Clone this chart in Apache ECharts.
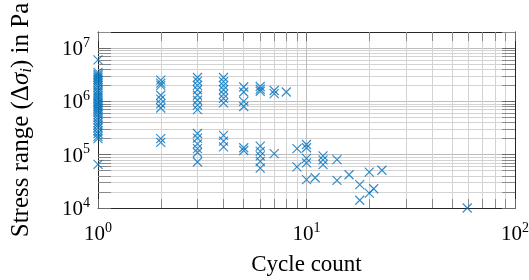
<!DOCTYPE html>
<html><head><meta charset="utf-8">
<script src="https://cdn.jsdelivr.net/npm/echarts@6/dist/echarts.min.js"></script>
<style>html,body{margin:0;padding:0;background:#fff}#c{width:529px;height:280px}</style>
</head><body><div id="c"></div>
<script>
// ---- data ----
const cycleCounts = [1, 2, 3, 4, 5, 6, 7, 8, 9, 10, 11, 12, 14, 16, 18, 20, 21, 23, 59];
const stressRanges = [
  [6.0e6, 3.5e6, 3.2e6, 3.0e6, 2.8e6, 2.6e6, 2.4e6, 2.2e6, 2.0e6, 1.8e6, 1.6e6, 1.45e6, 1.3e6, 1.2e6, 1.1e6, 1.0e6, 9.3e5, 8.6e5, 8.0e5, 7.4e5, 6.8e5, 6.2e5, 5.6e5, 5.0e5, 4.5e5, 4.0e5, 3.6e5, 3.2e5, 2.8e5, 2.5e5, 2.2e5, 2.0e5, 6.6e4],
  [2.5e6, 2.2e6, 2.0e6, 1.3e6, 1.1e6, 9.0e5, 7.5e5, 2.0e5, 1.7e5],
  [2.8e6, 2.4e6, 2.0e6, 1.65e6, 1.3e6, 1.05e6, 8.5e5, 7.0e5, 2.5e5, 2.05e5, 1.6e5, 1.3e5, 1.1e5, 7.3e4],
  [2.8e6, 2.35e6, 1.97e6, 1.65e6, 1.37e6, 1.14e6, 9.4e5, 2.3e5, 1.8e5, 1.4e5],
  [1.86e6, 1.5e6, 1.0e6, 8.0e5, 1.35e5, 1.2e5],
  [1.9e6, 1.7e6, 1.55e6, 1.45e5, 1.15e5, 9.5e4, 7.5e4, 5.6e4],
  [1.6e6, 1.4e6, 1.05e5],
  [1.5e6],
  [1.3e5, 5.9e4],
  [1.55e5, 1.35e5, 8.5e4, 7.0e4, 3.4e4],
  [3.7e4],
  [9.5e4, 8.0e4, 6.5e4],
  [8.1e4, 3.3e4],
  [4.2e4],
  [2.75e4, 1.4e4],
  [4.7e4, 1.9e4],
  [2.3e4],
  [5.1e4],
  [1.0e4]
];
const xRange = [1, 100];
const yRange = [1e4, 2e7];
const xMajorTicks = [1, 10, 100];
const yMajorTicks = [1e4, 1e5, 1e6, 1e7];
const xTitle = 'Cycle count';

// ---- build ----
function minorOf(majors, max) {
  const out = [];
  majors.forEach(m => { for (let k = 2; k <= 9; k++) { const v = m * k; if (v < max * 1.0001) out.push(v); } });
  return out;
}
const xMinor = minorOf(xMajorTicks, xRange[1]);
const yMinor = minorOf(yMajorTicks, yRange[1]);

const points = [];
cycleCounts.forEach((c, i) => stressRanges[i].forEach(s => points.push([c, s])));

const FONT = 'Liberation Serif';
const AXC = '#262626';
const TICKC = '#8a8a8a';
function powLabel(v) {
  const e = Math.round(Math.log10(v));
  if (Math.abs(Math.log10(v) - e) > 1e-6) return '';
  return '{b|10}{s|' + e + '}';
}
const richLab = {
  b: { fontFamily: FONT, fontSize: 21, color: '#000', lineHeight: 24, verticalAlign: 'bottom' },
  s: { fontFamily: FONT, fontSize: 14, color: '#000', lineHeight: 24, verticalAlign: 'top', padding: [0, 0, 10, 0] }
};

function makeAxis(kind, pos, range, majors, minors, isMain) {
  const len = kind === 'x' ? 9 : 13;
  const ax = [];
  ax.push({
    type: 'log', logBase: 10, min: range[0], max: range[1], position: pos,
    axisLine: { show: true, onZero: false, lineStyle: { color: AXC, width: 1 } },
    axisTick: { show: true, inside: true, length: len, customValues: majors, lineStyle: { color: '#6a6a6a' } },
    axisLabel: isMain ? { show: true, customValues: majors, formatter: powLabel, rich: richLab, margin: kind === 'x' ? 13 : 8 } : { show: false },
    splitLine: { show: isMain, lineStyle: { color: '#bdbdbd', width: 1 } }
  });
  ax.push({
    type: 'log', logBase: 10, min: range[0], max: range[1], position: pos,
    axisLine: { show: false },
    axisTick: { show: true, inside: true, length: len, customValues: minors, lineStyle: { color: TICKC } },
    axisLabel: { show: false },
    splitLine: { show: isMain, lineStyle: { color: '#d3d3d3', width: 1 } }
  });
  return ax;
}
const xAxes = makeAxis('x', 'bottom', xRange, xMajorTicks, xMinor, true).concat(makeAxis('x', 'top', xRange, xMajorTicks, xMinor, false));
const yAxes = makeAxis('y', 'left', yRange, yMajorTicks, yMinor, true).concat(makeAxis('y', 'right', yRange, yMajorTicks, yMinor, false));
xAxes[0].name = xTitle;
xAxes[0].nameLocation = 'middle';
xAxes[0].nameGap = 45;
xAxes[0].nameTextStyle = { fontFamily: FONT, fontSize: 23, color: '#000' };
yAxes[0].name = '{n|Stress range (Δ}{i|σ}{sb|i}{n|) in Pa}';
yAxes[0].nameLocation = 'middle';
yAxes[0].nameGap = 63;
yAxes[0].nameTextStyle = {
  rich: {
    n: { fontFamily: FONT, fontSize: 25, color: '#000', lineHeight: 28 },
    i: { fontFamily: FONT, fontSize: 25, fontStyle: 'italic', color: '#000', lineHeight: 28 },
    sb: { fontFamily: FONT, fontSize: 17, fontStyle: 'italic', color: '#000', lineHeight: 28, verticalAlign: 'bottom', padding: [6, 0, 0, 0] }
  }
};

const chart = echarts.init(document.getElementById('c'), null, { renderer: 'canvas' });
chart.setOption({
  animation: false,
  backgroundColor: '#fff',
  grid: { left: 98, right: 14, top: 32, bottom: 72, outerBoundsMode: 'none', containLabel: false },
  xAxis: xAxes,
  yAxis: yAxes,
  series: [{
    type: 'scatter', xAxisIndex: 0, yAxisIndex: 0,
    data: points,
    symbol: 'path://M0,0L10,10M10,0L0,10',
    symbolSize: 9,
    itemStyle: { color: 'rgba(0,0,0,0)', borderColor: '#0072BD', borderWidth: 1.2 },
    clip: false
  }]
});
</script></body></html>
